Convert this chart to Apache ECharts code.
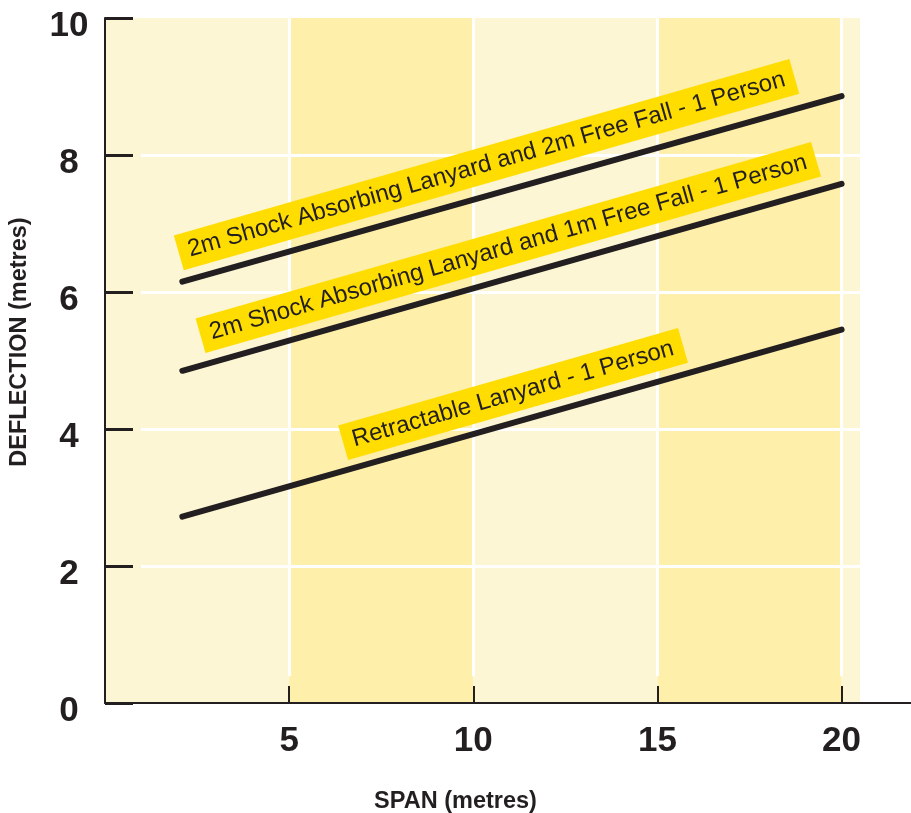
<!DOCTYPE html>
<html>
<head>
<meta charset="utf-8">
<script src="https://cdn.jsdelivr.net/npm/echarts@6/dist/echarts.min.js"></script>
<style>
  html, body { margin: 0; padding: 0; background: #fff; }
  #chart { width: 911px; height: 813px; }
</style>
</head>
<body>
<div id="chart"></div>
<script>
// span (m) at the ends of each line
var spanX = [2.1, 20];
// deflection (m) for each lanyard setup
var freeFall2m = [6.15, 8.86];
var freeFall1m = [4.85, 7.58];
var retractable = [2.72, 5.45];
// labels placed along the lines [span, deflection, text]
var lineLabels = [
  [10.36, 7.86, '2m Shock Absorbing Lanyard and 2m Free Fall - 1 Person'],
  [10.95, 6.65, '2m Shock Absorbing Lanyard and 1m Free Fall - 1 Person'],
  [11.08, 4.51, 'Retractable Lanyard - 1 Person']
];
var xTicks = [5, 10, 15, 20];
var yTicks = [0, 2, 4, 6, 8, 10];
// shaded bands behind the chart (edges on the span axis)
var bandEdges = [0, 5, 10, 15, 20, 20.5];
var bandColors = ['#FDF6D4', '#FEEFAB'];

var ink = '#231F20';
var sans = "'Liberation Sans', Arial, sans-serif";

function pairs(ys) {
  return spanX.map(function (x, i) { return [x, ys[i]]; });
}

function lineSeries(ys) {
  return {
    type: 'line',
    xAxisIndex: 0, yAxisIndex: 0,
    data: pairs(ys),
    symbol: 'none',
    lineStyle: { color: ink, width: 6, cap: 'round' },
    z: 3,
    silent: true
  };
}

// bands
var bands = [];
for (var i = 0; i < bandEdges.length - 1; i++) {
  bands.push([
    { coord: [bandEdges[i], 0], itemStyle: { color: bandColors[i % 2] } },
    { coord: [bandEdges[i + 1], 10] }
  ]);
}
// white grid lines between the cells
var whiteLines = [];
xTicks.forEach(function (x) {
  whiteLines.push([{ coord: [x, 0.39] }, { coord: [x, 10] }]);
});
yTicks.slice(1, -1).forEach(function (y) {
  whiteLines.push([{ coord: [0.98, y] }, { coord: [20.5, y] }]);
});

var s1 = lineSeries(freeFall2m);
s1.markArea = { silent: true, z: 1, data: bands, label: { show: false } };
var s2 = lineSeries(freeFall1m);
s2.markLine = {
  silent: true, z: 2, symbol: ['none', 'none'],
  label: { show: false },
  lineStyle: { color: '#ffffff', width: 3, type: 'solid' },
  data: whiteLines
};

var myChart = echarts.init(document.getElementById('chart'));
var option = {
  animation: false,
  grid: [
    { left: 105, right: 51, top: 18, bottom: 110 },
    { left: 105, right: 0, top: 18, bottom: 110 }
  ],
  xAxis: [{
    gridIndex: 0,
    type: 'value',
    z: 6,
    min: 0, max: 20.5, interval: 5,
    axisLine: { show: false },
    axisTick: { show: true, inside: true, length: 17, customValues: xTicks,
      lineStyle: { color: ink, width: 2 } },
    axisLabel: {
      customValues: xTicks,
      margin: 21,
      fontFamily: sans, fontWeight: 'bold', fontSize: 35, color: ink
    },
    splitLine: { show: false }
  }, {
    gridIndex: 1,
    type: 'value', min: 0, max: 1,
    z: 6,
    axisLine: { show: true, lineStyle: { color: ink, width: 2 } },
    axisTick: { show: false }, axisLabel: { show: false }, splitLine: { show: false }
  }],
  yAxis: [{
    gridIndex: 0,
    type: 'value',
    z: 6,
    min: 0, max: 10, interval: 2,
    axisLine: { show: true, lineStyle: { color: ink, width: 2 } },
    axisTick: { show: true, inside: true, length: 28, lineStyle: { color: ink, width: 3 } },
    axisLabel: {
      margin: 36, align: 'center',
      formatter: '{v|{value}}',
      rich: {
        v: { fontFamily: sans, fontWeight: 'bold', fontSize: 35, color: ink,
          padding: [16, 0, 0, 0] }
      }
    },
    splitLine: { show: false }
  }, {
    gridIndex: 1, type: 'value', min: 0, max: 1, show: false
  }],
  graphic: [{
    type: 'text', left: 'center', top: 790,
    style: { text: 'SPAN (metres)', fill: ink,
      font: "bold 23.5px 'Liberation Sans', Arial, sans-serif" }
  }, {
    type: 'text', x: 20, y: 342, rotation: Math.PI / 2,
    style: { text: 'DEFLECTION (metres)', fill: ink, align: 'center', verticalAlign: 'middle',
      font: "bold 23.5px 'Liberation Sans', Arial, sans-serif" }
  }],
  series: [
    s1,
    s2,
    lineSeries(retractable),
    {
      type: 'scatter',
      xAxisIndex: 0, yAxisIndex: 0,
      data: lineLabels,
      symbolSize: 1,
      itemStyle: { color: 'rgba(0,0,0,0)', opacity: 1 },
      z: 4,
      silent: true,
      label: {
        show: true,
        position: 'inside',
        rotate: 16,
        opacity: 1,
        formatter: function (p) { return p.data[2]; },
        fontFamily: sans, fontSize: 24, color: ink,
        backgroundColor: '#FFDD00',
        padding: [7, 10, 5, 10]
      }
    }
  ]
};
myChart.setOption(option);
</script>
</body>
</html>
